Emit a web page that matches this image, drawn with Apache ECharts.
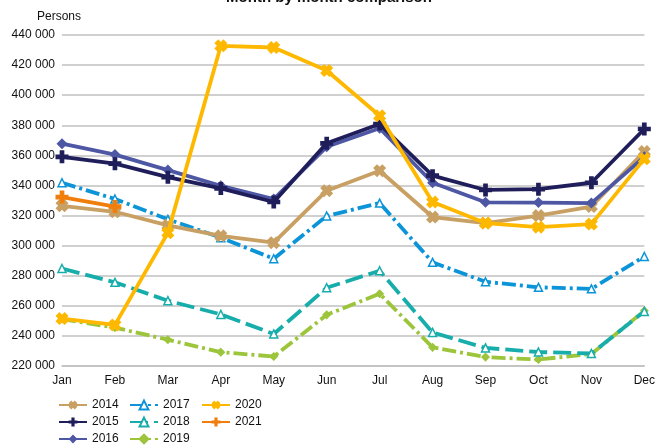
<!DOCTYPE html>
<html><head><meta charset="utf-8">
<script src="https://cdn.jsdelivr.net/npm/echarts@6/dist/echarts.min.js"></script>
<style>html,body{margin:0;padding:0;background:#fff}#c{width:658px;height:446px}</style>
</head><body><div id="c"></div>
<script>
var months = ['Jan','Feb','Mar','Apr','May','Jun','Jul','Aug','Sep','Oct','Nov','Dec'];
var yTicks = [220000,240000,260000,280000,300000,320000,340000,360000,380000,400000,420000,440000];
var y2014 = [326500,322500,313500,306500,302000,336500,349800,319000,315000,320000,326000,362500];
var y2015 = [359000,354500,345500,338000,329000,368000,380800,346500,337000,337500,341800,377500];
var y2016 = [367800,360500,350200,339800,331000,365700,378000,341800,328800,328600,328300,359000];
var y2017 = [341800,331000,317500,305300,291300,319700,328300,288900,276000,272300,271300,292800];
var y2018 = [284800,275600,263400,254300,241300,272000,283300,242300,232000,229300,228300,256300];
var y2019 = [251200,245500,237500,229200,226300,254000,268000,232400,225900,224300,228000,256700];
var y2020 = [251500,247300,308500,432800,431700,416400,386300,329000,315000,312300,314300,357700];
var y2021 = [332300,326000];

var XS = 'path://M0,3 L3,0 L5,2 L7,0 L10,3 L8,5 L10,7 L7,10 L5,8 L3,10 L0,7 L2,5 Z';
var PL = 'path://M3.2,0 H6.8 V3.2 H10 V6.8 H6.8 V10 H3.2 V6.8 H0 V3.2 H3.2 Z';

function mk(name, data, color, symbol, size, ltype, symColor, z){
  return {
    name: name, type: 'line', data: data, symbol: symbol, symbolSize: size,
    z: z,
    lineStyle: {color: color, width: 3.8, type: ltype},
    itemStyle: {color: symColor || color, borderColor: color, borderWidth: symColor ? 1.5 : 0},
    emphasis: {disabled: true}
  };
}

var chart = echarts.init(document.getElementById('c'), null, {renderer: 'canvas'});
var legText = {fontFamily: 'Liberation Sans, Arial', fontSize: 12, lineHeight: 12, color: '#111'};
function leg(left, names){
  return {orient: 'vertical', left: left, top: 399, itemWidth: 28, itemHeight: 11, itemGap: 5,
    data: names, textStyle: legText, padding: 0, selectedMode: false};
}
chart.setOption({
  animation: false,
  title: [
    {text: 'Month by month comparison', left: 'center', top: -10, padding: 0,
     textStyle: {fontFamily: 'Liberation Sans, Arial', fontSize: 15, fontWeight: 'bold', color: '#111'}},
    {text: 'Persons', left: 37, top: 11, padding: 0,
     textStyle: {fontFamily: 'Liberation Sans, Arial', fontSize: 12, fontWeight: 'normal', color: '#111'}}
  ],
  legend: [
    leg(58, ['2014','2015','2016']),
    leg(129, ['2017','2018','2019']),
    leg(201, ['2020','2021'])
  ],
  grid: {left: 62, right: 12, top: 35, bottom: 80, containLabel: false},
  xAxis: {
    type: 'category', data: months, boundaryGap: false,
    axisLine: {show: true, lineStyle: {color: '#c0c0c0', width: 1.5}},
    axisTick: {show: false},
    axisLabel: {margin: 9, fontFamily: 'Liberation Sans, Arial', fontSize: 12, color: '#111'},
    splitLine: {show: false}
  },
  yAxis: {
    type: 'value', min: yTicks[0], max: yTicks[yTicks.length-1], interval: yTicks[1]-yTicks[0],
    axisLine: {show: false}, axisTick: {show: false},
    axisLabel: {margin: 7, fontFamily: 'Liberation Sans, Arial', fontSize: 12, color: '#111',
      formatter: function(v){ return String(v).replace(/\B(?=(\d{3})+(?!\d))/g, ' '); }},
    splitLine: {lineStyle: {color: '#c0c0c0', width: 1.5}}
  },
  series: [
    mk('2019', y2019, '#9cc53c', 'diamond', 7, [14,4,3,4], '#9cc53c', 2),
    mk('2018', y2018, '#17adab', 'triangle', 8, [18,6], '#ffffff', 3),
    mk('2017', y2017, '#0c94d8', 'triangle', 8, [14,4,3,4], '#ffffff', 4),
    mk('2014', y2014, '#c9a063', XS, 13, 'solid', null, 5),
    mk('2016', y2016, '#4e57a4', 'diamond', 11, 'solid', null, 6),
    mk('2015', y2015, '#1f1e5a', PL, 13, 'solid', null, 7),
    mk('2021', y2021, '#f07e0c', PL, 13, 'solid', null, 8),
    mk('2020', y2020, '#ffb800', XS, 13, 'solid', null, 9)
  ]
});
</script>
</body></html>
